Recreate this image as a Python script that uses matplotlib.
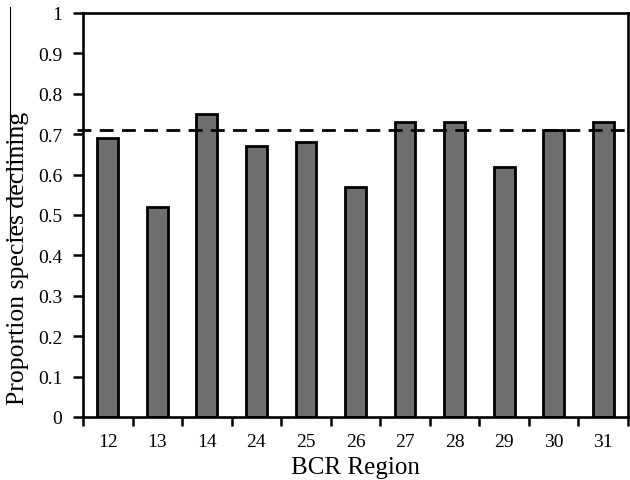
import numpy as np
import matplotlib
matplotlib.use("Agg")
import matplotlib.pyplot as plt
import matplotlib.transforms as mtransforms

regions = ["12", "13", "14", "24", "25", "26", "27", "28", "29", "30", "31"]
proportion = [0.69, 0.52, 0.75, 0.67, 0.68, 0.57, 0.73, 0.73, 0.62, 0.71, 0.73]
overall = 0.71

plt.rcParams["font.family"] = ["Liberation Serif", "DejaVu Serif"]

W, H = 630, 481
fig = plt.figure(figsize=(W / 100, H / 100), dpi=100)
ax = fig.add_axes([83 / W, 63 / H, 545 / W, 404 / H])

x = np.arange(len(regions))
ax.bar(x, proportion, width=0.42, color="#6e6e6e", edgecolor="black", linewidth=2.0, zorder=2)

# overall line, runs a bit past the left spine
trans = mtransforms.blended_transform_factory(ax.transAxes, ax.transData)
ax.plot([-0.011, 1.0], [overall, overall], transform=trans, color="black",
        linestyle=(0, (5, 3)), linewidth=2.0, clip_on=False, zorder=3)

ax.set_xlim(-0.5, len(regions) - 0.5)
ax.set_ylim(0, 1)
ax.set_yticks(np.arange(0, 1.01, 0.1))
ax.set_yticklabels(["0", "0.1", "0.2", "0.3", "0.4", "0.5", "0.6", "0.7", "0.8", "0.9", "1"])

# category labels between boundary ticks
ax.set_xticks(np.arange(len(regions) + 1) - 0.5)
ax.set_xticklabels([])
ax.set_xticks(x, minor=True)
ax.set_xticklabels(regions, minor=True)
ax.tick_params(axis="x", which="major", direction="out", length=6.5, width=1.8)
ax.tick_params(axis="x", which="minor", length=0, pad=11.5, labelsize=14)
ax.tick_params(axis="y", direction="out", length=7, width=1.8, labelsize=14, pad=8)

for s in ax.spines.values():
    s.set_linewidth(1.9)

ax.set_xlabel("BCR Region", fontsize=18, labelpad=4)
fig.text(18.5 / W, 1 - 258 / H, "Proportion species declining", rotation=90,
         ha="center", va="center", fontsize=18.5)

# thin stray line beside the y label, as in the source figure
fig.add_artist(plt.Line2D([10 / W, 10 / W], [1 - 8 / H, 1 - 242 / H],
                          color="black", linewidth=0.8))

fig.savefig("out.png", dpi=100)
